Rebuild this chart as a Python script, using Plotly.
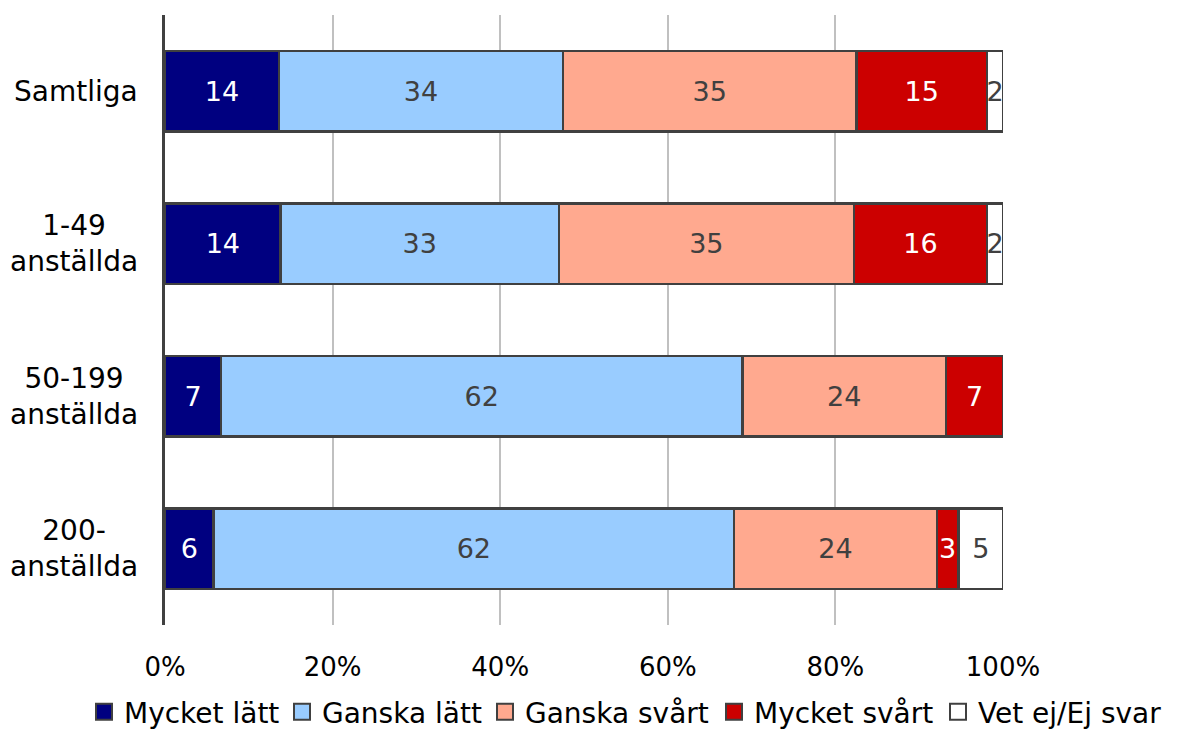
import plotly.graph_objects as go

categories = ["Samtliga", "1-49<br>anställda", "50-199<br>anställda", "200-<br>anställda"]
series_names = ["Mycket lätt", "Ganska lätt", "Ganska svårt", "Mycket svårt", "Vet ej/Ej svar"]
mycket_latt = [13.6, 13.8, 6.7, 5.8]
ganska_latt = [33.9, 33.2, 62.2, 62.1]
ganska_svart = [35.0, 35.2, 24.3, 24.2]
mycket_svart = [15.6, 15.9, 6.8, 2.6]
vet_ej = [1.9, 1.9, 0.0, 5.3]
labels = [
    ["14", "14", "7", "6"],
    ["34", "33", "62", "62"],
    ["35", "35", "24", "24"],
    ["15", "16", "7", "3"],
    ["2", "2", "", "5"],
]
colors = ["#000080", "#99CCFF", "#FFA98F", "#CC0000", "#FFFFFF"]
text_colors = ["#FFFFFF", "#404040", "#404040", "#FFFFFF", "#404040"]
x_ticks = [0, 20, 40, 60, 80, 100]
legend_left_px = [84, 282, 485, 714, 938]

FONT = "DejaVu Sans"
W, H = 1181, 729
fig = go.Figure()
legend_ids = ["legend", "legend2", "legend3", "legend4", "legend5"]
for name, vals, lab, col, tcol, lid in zip(series_names,
                                           [mycket_latt, ganska_latt, ganska_svart, mycket_svart, vet_ej],
                                           labels, colors, text_colors, legend_ids):
    fig.add_trace(go.Bar(
        name=name, y=categories, x=vals, orientation="h", showlegend=False,
        legendgroup=name,
        marker=dict(color=col, line=dict(color="#404040", width=2.5)),
        text=lab, textposition="inside", insidetextanchor="middle", textangle=0,
        textfont=dict(color=tcol, size=27, family=FONT),
        hoverinfo="x+name",
    ))
    # legend-only entry with a larger square key
    fig.add_trace(go.Scatter(
        name=name, x=[None], y=[None], mode="markers", legend=lid, legendgroup=name,
        marker=dict(symbol="square", size=16, color=col, line=dict(color="#404040", width=2)),
        showlegend=True, hoverinfo="skip",
    ))

for c in categories:
    fig.add_annotation(x=0, xref="paper", y=c, yref="y", text=c, showarrow=False,
                       xanchor="right", align="center", xshift=-25,
                       font=dict(size=28, color="#000000", family=FONT))

legend_layouts = {}
for lid, lx in zip(legend_ids, legend_left_px):
    legend_layouts[lid] = dict(orientation="h", xref="container", yref="container",
                               x=lx / W, y=(H - 712) / H, xanchor="left", yanchor="middle",
                               font=dict(size=28, family=FONT, color="#000000"),
                               itemwidth=30, bgcolor="rgba(0,0,0,0)")

fig.update_layout(
    barmode="stack", bargap=0.475,
    width=W, height=H,
    margin=dict(l=165, r=178, t=15, b=104, autoexpand=False),
    paper_bgcolor="white", plot_bgcolor="white",
    font=dict(family=FONT, color="#000000"),
    uniformtext=dict(minsize=27, mode="show"),
    showlegend=True,
    **legend_layouts,
)
fig.update_xaxes(range=[0, 100], tickvals=x_ticks, ticktext=[f"{v}%" for v in x_ticks],
                 showgrid=True, gridcolor="#C0C0C0", gridwidth=2, zeroline=False,
                 showline=False, ticks="", ticklabelstandoff=24,
                 tickfont=dict(size=26, family=FONT, color="#000000"))
fig.update_yaxes(autorange=False, range=[3.5, -0.5], showticklabels=False,
                 showgrid=False, showline=True, linecolor="#404040", linewidth=2.5,
                 ticks="", zeroline=False)

fig.write_html("out.html", config={"displayModeBar": False},
               post_script="document.body.style.margin='0';")
